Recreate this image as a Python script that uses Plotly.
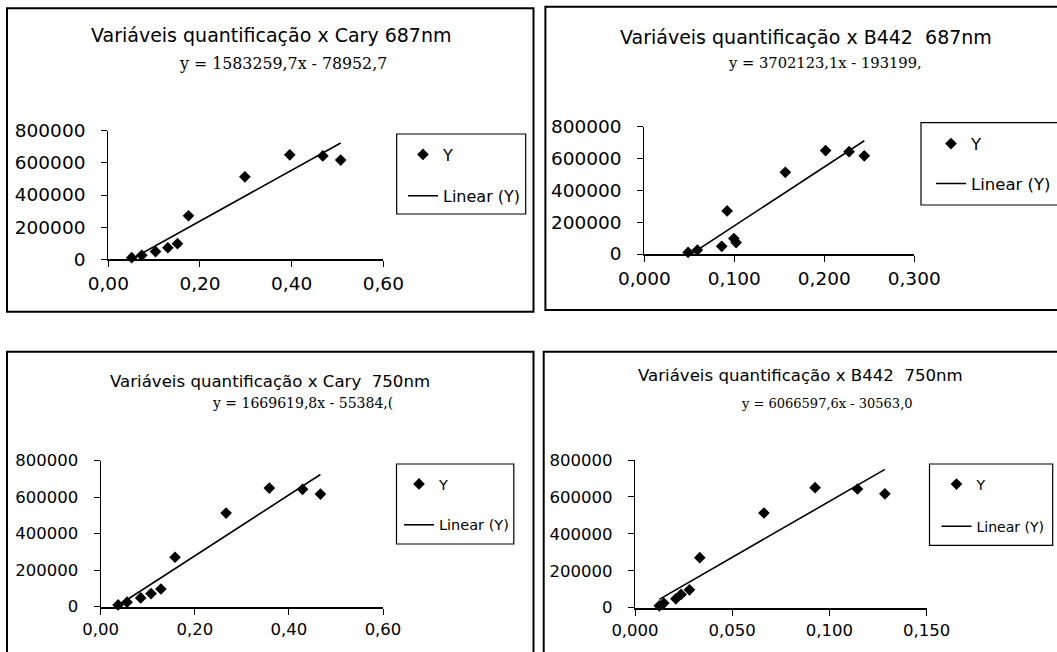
import plotly.graph_objects as go

W, H = 1057, 652

# ---------------- data ----------------
y_quant = [10000, 25000, 48000, 72000, 97000, 271000, 513000, 650000, 643000, 617000]
x_cary_687 = [0.051, 0.073, 0.103, 0.130, 0.151, 0.175, 0.298, 0.396, 0.468, 0.507]
x_b442_687 = [0.0486, 0.0589, 0.086, 0.102, 0.0995, 0.092, 0.1567, 0.2015, 0.2276, 0.2445]
x_cary_750 = [0.037, 0.056, 0.085, 0.107, 0.128, 0.158, 0.2665, 0.3585, 0.429, 0.467]
x_b442_750 = [0.0125, 0.0148, 0.021, 0.0237, 0.028, 0.0333, 0.0663, 0.0926, 0.1144, 0.1285]

titles = [
    "Variáveis quantificação x Cary 687nm",
    "Variáveis quantificação x B442  687nm",
    "Variáveis quantificação x Cary  750nm",
    "Variáveis quantificação x B442  750nm",
]
equations = [
    "y = 1583259,7x - 78952,7",
    "y = 3702123,1x - 193199,",
    "y = 1669619,8x - 55384,(",
    "y = 6066597,6x - 30563,0",
]
slopes = [1583259.7, 3702123.1, 1669619.8, 6066597.6]
intercepts = [-78952.7, -193199.0, -55384.0, -30563.0]
x_max = [0.6, 0.3, 0.6, 0.15]
x_dtick = [0.2, 0.1, 0.2, 0.05]
x_fmt = [".2f", ".3f", ".2f", ".3f"]
y_max = 800000
y_dtick = 200000
series_name = "Y"
trend_name = "Linear (Y)"

x_sets = [x_cary_687, x_b442_687, x_cary_750, x_b442_750]

# ---------------- layout geometry (pixels) ----------------
plot_boxes = [(108.3, 383.3, 130.7, 259.3), (644.4, 914.2, 126.7, 254.0),
              (100.7, 383.0, 460.7, 606.7), (635.0, 926.7, 460.0, 607.7)]
title_pos = [(271, 35), (806, 37), (270, 381), (800, 375)]
eq_pos = [(283, 63), (825, 62), (302, 403), (827, 403)]
legend_pos = [(403, 150.5), (931, 139.3), (399, 481), (936.5, 481.5)]
legend_gap = [17.5, 15.5, 19, 21]
legend_font = [16, 16.5, 14.5, 14]
title_font = [19, 19, 16.6, 16.6]
tick_font = [18.5, 18.5, 16.5, 16.5]
eq_font = [15.8, 14.7, 14, 13]
legend_boxes = [(396.7, 525.7, 134, 214), (921, 1075, 122.7, 205),
                (396.5, 513.8, 464, 544), (929.5, 1052.7, 464, 545.3)]
outer_boxes = [(7, 533.5, 8.3, 311.7), (545.4, 1075, 6.7, 310),
               (7, 533.5, 351.7, 670), (543.7, 1075, 351.7, 670)]

SANS = "DejaVu Sans"
SERIF = "DejaVu Serif"

def px_x(v):
    return v / W

def px_y(v):
    return 1 - v / H

fig = go.Figure()
layout = dict(
    width=W, height=H, autosize=False,
    margin=dict(l=0, r=0, t=0, b=0, pad=0, autoexpand=False),
    paper_bgcolor="white", plot_bgcolor="white",
    separators=", ",
    font=dict(family=SANS, size=17, color="black"),
    showlegend=True,
)
annotations = []
shapes = []

for i in range(4):
    n = i + 1
    xs = x_sets[i]
    xa = "x" if n == 1 else f"x{n}"
    ya = "y" if n == 1 else f"y{n}"
    lg = "legend" if n == 1 else f"legend{n}"

    fig.add_trace(go.Scatter(
        x=xs, y=y_quant, mode="markers", name=series_name,
        marker=dict(symbol="diamond", size=9, color="black"),
        cliponaxis=False, xaxis=xa, yaxis=ya, legend=lg, legendgroup=f"p{n}a",
    ))
    xl = [min(xs), max(xs)]
    yl = [slopes[i] * v + intercepts[i] for v in xl]
    fig.add_trace(go.Scatter(
        x=xl, y=yl, mode="lines", name=trend_name,
        line=dict(color="black", width=1.6),
        xaxis=xa, yaxis=ya, legend=lg, legendgroup=f"p{n}b",
    ))

    x0, x1, yt, yb = plot_boxes[i]
    xkey = "xaxis" if n == 1 else f"xaxis{n}"
    ykey = "yaxis" if n == 1 else f"yaxis{n}"
    layout[xkey] = dict(
        domain=[px_x(x0), px_x(x1)], range=[0, x_max[i]], anchor=ya,
        tick0=0, dtick=x_dtick[i], tickformat=x_fmt[i], automargin=False,
        showgrid=False, zeroline=False, showline=True, linecolor="black", linewidth=1.6,
        ticks="outside", ticklen=6, tickwidth=1.3, tickcolor="black",
        ticklabelstandoff=1, tickfont=dict(family=SANS, size=tick_font[i], color="black"),
    )
    layout[ykey] = dict(
        domain=[px_y(yb), px_y(yt)], range=[0, y_max], anchor=xa,
        tick0=0, dtick=y_dtick, tickformat="d", automargin=False,
        showgrid=False, zeroline=False, showline=True, linecolor="black", linewidth=1.3,
        ticks="outside", ticklen=6, tickwidth=1.3, tickcolor="black",
        ticklabelstandoff=12, tickfont=dict(family=SANS, size=tick_font[i], color="black"),
    )
    # overlay axes to give Excel-style crossing tick marks
    ox, oy = n + 4, n + 4
    layout[f"xaxis{ox}"] = dict(
        overlaying=xa, anchor=ya, range=[0, x_max[i]], tick0=0, dtick=x_dtick[i],
        showgrid=False, zeroline=False, showline=False, showticklabels=False,
        ticks="inside", ticklen=6, tickwidth=1.3, tickcolor="black", automargin=False,
    )
    layout[f"yaxis{oy}"] = dict(
        overlaying=ya, anchor=xa, range=[0, y_max], tick0=0, dtick=y_dtick,
        showgrid=False, zeroline=False, showline=False, showticklabels=False,
        ticks="inside", ticklen=6, tickwidth=1.3, tickcolor="black", automargin=False,
    )

    lx, ly = legend_pos[i]
    layout[lg] = dict(
        x=px_x(lx), y=px_y(ly - 13), xanchor="left", yanchor="top",
        bgcolor="rgba(0,0,0,0)", borderwidth=0,
        font=dict(family=SANS, size=legend_font[i], color="black"),
        tracegroupgap=legend_gap[i], itemclick=False, itemdoubleclick=False,
    )

    tx, ty = title_pos[i]
    annotations.append(dict(
        text=titles[i], x=px_x(tx), y=px_y(ty), xref="paper", yref="paper",
        xanchor="center", yanchor="middle", showarrow=False,
        font=dict(family=SANS, size=title_font[i], color="black"),
    ))
    ex, ey = eq_pos[i]
    annotations.append(dict(
        text=equations[i], x=px_x(ex), y=px_y(ey), xref="paper", yref="paper",
        xanchor="center", yanchor="middle", showarrow=False,
        font=dict(family=SERIF, size=eq_font[i], color="black"),
    ))

    bx0, bx1, by0, by1 = legend_boxes[i]
    shapes.append(dict(type="rect", xref="paper", yref="paper",
                       x0=px_x(bx0), x1=px_x(bx1), y0=px_y(by1), y1=px_y(by0),
                       line=dict(color="black", width=1.2), fillcolor="rgba(0,0,0,0)"))
    ox0, ox1, oy0, oy1 = outer_boxes[i]
    shapes.append(dict(type="rect", xref="paper", yref="paper",
                       x0=px_x(ox0), x1=px_x(ox1), y0=px_y(oy1), y1=px_y(oy0),
                       line=dict(color="black", width=2), fillcolor="rgba(0,0,0,0)"))

layout["annotations"] = annotations
layout["shapes"] = shapes
fig.update_layout(**layout)

fig.write_html("out.html", config={"displayModeBar": False},
               post_script="document.body.style.margin='0';document.body.style.overflow='hidden';")
